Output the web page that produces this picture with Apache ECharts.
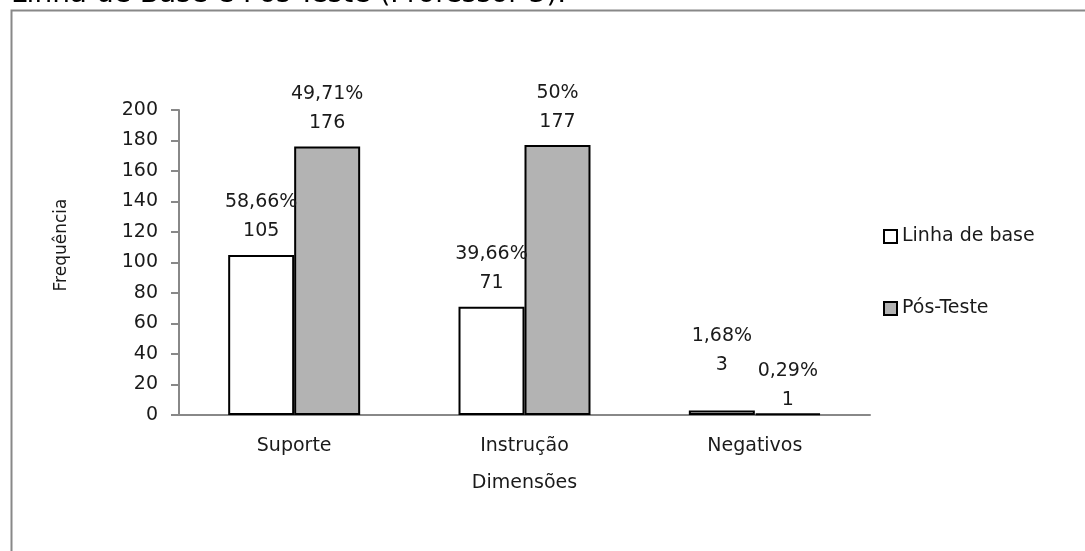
<!DOCTYPE html>
<html>
<head>
<meta charset="utf-8">
<script src="https://cdn.jsdelivr.net/npm/echarts@6/dist/echarts.min.js"></script>
<style>html,body{margin:0;padding:0;background:#fff;}#c{width:1085px;height:551px;}</style>
</head>
<body>
<div id="c"></div>
<script>
var categories = ['Suporte', 'Instrução', 'Negativos'];
var baselineValues = [105, 71, 3];
var postValues = [176, 177, 1];
var baselinePct = ['58,66%', '39,66%', '1,68%'];
var postPct = ['49,71%', '50%', '0,29%'];
var seriesNames = ['Linha de base', 'Pós-Teste'];
var titleText = 'Linha de Base e Pós-Teste (Professor 3).';
var yAxisName = 'Frequência';
var xAxisName = 'Dimensões';

var FONT = 'DejaVu Sans';
var chart = echarts.init(document.getElementById('c'));

function labelCfg(pcts) {
  return {
    show: true,
    position: 'top',
    distance: 9,
    fontFamily: FONT,
    fontSize: 19,
    lineHeight: 29,
    color: '#1a1a1a',
    formatter: function (p) { return pcts[p.dataIndex] + '\n' + p.value; }
  };
}

var baseData = baselineValues.map(function (v, i) {
  var d = { value: v };
  if (i === 2) d.label = { offset: [0, -22] };
  return d;
});
var postData = postValues.map(function (v, i) {
  var d = { value: v };
  if (i === 2) d.label = { offset: [0, 10] };
  return d;
});

chart.setOption({
  animation: false,
  backgroundColor: '#fff',
  textStyle: { fontFamily: FONT },
  graphic: [
    { type: 'rect', left: 9, top: 8, shape: { width: 1200, height: 700 }, style: { fill: 'none', stroke: '#888', lineWidth: 2 }, z: -1 },
    { type: 'text', left: 11, top: -19, style: { text: titleText, font: '28px "DejaVu Sans"', fill: '#000' } },
    { type: 'text', x: 62, y: 245, rotation: Math.PI / 2, style: { text: yAxisName, font: '17px "DejaVu Sans"', fill: '#1a1a1a', align: 'center', verticalAlign: 'middle' } }
  ],
  grid: { left: 179, right: 215, top: 110, bottom: 136 },
  legend: {
    orient: 'vertical',
    left: 878,
    top: 222,
    itemWidth: 13,
    itemHeight: 13,
    itemGap: 53,
    icon: 'rect',
    textStyle: { fontFamily: FONT, fontSize: 19, color: '#1a1a1a' },
    data: seriesNames
  },
  xAxis: {
    type: 'category',
    data: categories,
    name: xAxisName,
    nameLocation: 'middle',
    nameGap: 59,
    nameTextStyle: { fontFamily: FONT, fontSize: 19, color: '#1a1a1a' },
    axisLine: { lineStyle: { color: '#888', width: 2 } },
    axisTick: { show: false },
    axisLabel: { fontFamily: FONT, fontSize: 19, color: '#1a1a1a', margin: 22 }
  },
  yAxis: {
    type: 'value',
    min: 0,
    max: 200,
    interval: 20,
    splitLine: { show: false },
    axisLine: { show: true, lineStyle: { color: '#888', width: 2 } },
    axisTick: { show: true, length: 8, lineStyle: { color: '#888', width: 2 } },
    axisLabel: { fontFamily: FONT, fontSize: 19, color: '#1a1a1a', margin: 21 }
  },
  series: [
    {
      name: seriesNames[0],
      type: 'bar',
      data: baseData,
      barGap: '0%',
      barCategoryGap: '42.7%',
      itemStyle: { color: '#ffffff', borderColor: '#000', borderWidth: 2 },
      label: labelCfg(baselinePct)
    },
    {
      name: seriesNames[1],
      type: 'bar',
      data: postData,
      itemStyle: { color: '#b3b3b3', borderColor: '#000', borderWidth: 2 },
      label: labelCfg(postPct)
    }
  ]
});
</script>
</body>
</html>
